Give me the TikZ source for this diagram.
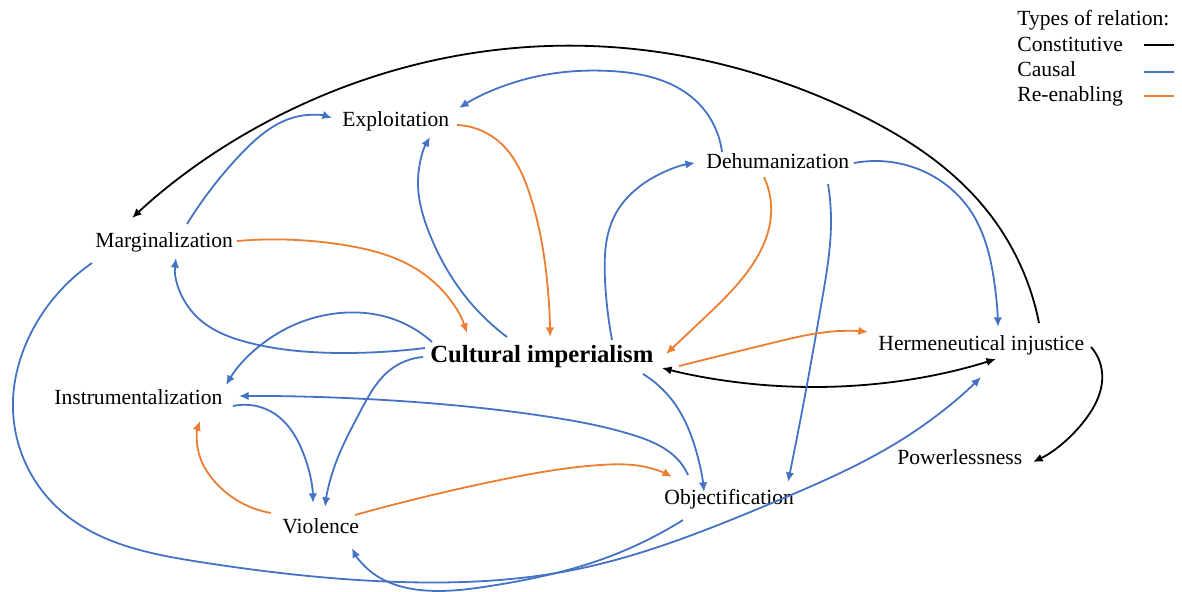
\documentclass[tikz,border=0pt]{standalone}
\usepackage{fontspec}
\setmainfont{Liberation Serif}
\usetikzlibrary{arrows.meta,hobby}
\definecolor{causalblue}{HTML}{4472C4}
\definecolor{reenorange}{HTML}{ED7D31}
\begin{document}
\begin{tikzpicture}[x=0.5pt,y=-0.5pt,
  lbl/.style={anchor=base west,inner sep=0pt,font=\fontsize{10.8}{13}\selectfont},
  mainlbl/.style={anchor=base west,inner sep=0pt,font=\fontsize{12.35}{15}\selectfont\bfseries},
  link/.style={line width=0.9pt,-{Latex[length=4.8pt,width=4.2pt]}},
  constitutive/.style={link,black},
  causal/.style={link,causalblue},
  reenabling/.style={link,reenorange},
  keyline/.style={line width=0.9pt}]
\useasboundingbox (0,0) rectangle (1182,592);

% concepts
\node[lbl] (exp) at (342,127) {Exploitation};
\node[lbl] (deh) at (706,169) {Dehumanization};
\node[lbl] (marg) at (95,248) {Marginalization};
\node[mainlbl] (cult) at (430,363) {Cultural imperialism};
\node[lbl] (herm) at (878,351) {Hermeneutical injustice};
\node[lbl] (instr) at (54,405) {Instrumentalization};
\node[lbl] (power) at (897,465) {Powerlessness};
\node[lbl] (obj) at (664,504) {Objectification};
\node[lbl] (viol) at (282,533) {Violence};

% key
\node[lbl] (ktitle) at (1017,26) {Types of relation:};
\node[lbl] (kcon) at (1017,52) {Constitutive};
\node[lbl] (kcau) at (1017,77) {Causal};
\node[lbl] (kre) at (1017,102) {Re-enabling};
\draw[keyline,black] ([shift={(127,-7)}]kcon.base west) -- ([shift={(157,-7)}]kcon.base west);
\draw[keyline,causalblue] ([shift={(127,-5)}]kcau.base west) -- ([shift={(157,-5)}]kcau.base west);
\draw[keyline,reenorange] ([shift={(127,-6)}]kre.base west) -- ([shift={(157,-6)}]kre.base west);

% constitutive relations
\draw[constitutive] ([shift={(161,-28)}]herm.base west) to[curve through={(984,207) .. (850,110) .. (590,46) .. (344,87)}] ([shift={(37,-30)}]marg.base west);
\draw[constitutive,{Latex[length=4.8pt,width=4.2pt]}-{Latex[length=4.8pt,width=4.2pt]}] ([shift={(232,5)}]cult.base west) to[curve through={(764,385)}] ([shift={(118,8)}]herm.base west);
\draw[constitutive] ([shift={(213,-4)}]herm.base west) to[curve through={(1102,372) .. (1085,420)}] ([shift={(136,-3)}]power.base west);

% causal relations
\draw[causal] ([shift={(16,-17)}]deh.base west) to[curve through={(695,100) .. (610,71) .. (530,78)}] ([shift={(117,-19)}]exp.base west);
\draw[causal] ([shift={(92,-24)}]marg.base west) to[curve through={(240,155) .. (300,116)}] ([shift={(-10,-9)}]exp.base west);
\draw[causal] ([shift={(77,-26)}]cult.base west) to[curve through={(465,296) .. (430,235) .. (418,180)}] ([shift={(88,10)}]exp.base west);
\draw[causal] ([shift={(-5,-15)}]cult.base west) to[curve through={(344,353) .. (250,343) .. (195,315)}] ([shift={(81,10)}]marg.base west);
\draw[causal] ([shift={(2,-21)}]cult.base west) to[curve through={(390,318) .. (340,313) .. (280,332)}] ([shift={(172,-20)}]instr.base west);
\draw[causal] ([shift={(-7,-6)}]cult.base west) to[curve through={(390,370) .. (360,412) .. (335,465)}] ([shift={(43,-26)}]viol.base west);
\draw[causal] ([shift={(179,1)}]instr.base west) to[curve through={(275,414) .. (302,450)}] ([shift={(31,-30)}]viol.base west);
\draw[causal] ([shift={(24,-29)}]obj.base west) to[curve through={(680,462) .. (633,435) .. (550,417) .. (400,401)}] ([shift={(185,-9)}]instr.base west);
\draw[causal] ([shift={(213,11)}]cult.base west) to[curve through={(672,400) .. (695,447)}] ([shift={(40,-12)}]obj.base west);
\draw[causal] ([shift={(122,15)}]deh.base west) to[curve through={(831,220) .. (822,300) .. (806,390)}] ([shift={(124,-22)}]obj.base west);
\draw[causal] ([shift={(182,-23)}]cult.base west) to[curve through={(605,280) .. (615,215) .. (649,180)}] ([shift={(-11,-6)}]deh.base west);
\draw[causal] ([shift={(148,-6)}]deh.base west) to[curve through={(925,172) .. (970,210) .. (994,280)}] ([shift={(120,-24)}]herm.base west);
\draw[causal] ([shift={(-3,15)}]marg.base west) to[curve through={(30,335) .. (13,410) .. (60,510) .. (200,562) .. (400,582) .. (573,570) .. (772,503) .. (906,437)}] ([shift={(103,26)}]herm.base west);
\draw[causal] ([shift={(19,16)}]obj.base west) to[curve through={(600,560) .. (490,586) .. (420,590) .. (370,571)}] ([shift={(70,15)}]viol.base west);

% re-enabling relations
\draw[reenabling] ([shift={(115,-2)}]exp.base west) to[curve through={(497,140) .. (530,195) .. (547,280)}] ([shift={(120,-26)}]cult.base west);
\draw[reenabling] ([shift={(142,-7)}]marg.base west) to[curve through={(344,245) .. (421,272)}] ([shift={(37,-30)}]cult.base west);
\draw[reenabling] ([shift={(58,8)}]deh.base west) to[curve through={(771,215) .. (745,275) .. (700,322)}] ([shift={(236,-9)}]cult.base west);
\draw[reenabling] ([shift={(249,3)}]cult.base west) to[curve through={(772,343) .. (840,331)}] ([shift={(-10,-19)}]herm.base west);
\draw[reenabling] ([shift={(-11,-20)}]viol.base west) to[curve through={(215,482) .. (198,450)}] ([shift={(146,16)}]instr.base west);
\draw[reenabling] ([shift={(73,-18)}]viol.base west) to[curve through={(500,480) .. (600,465) .. (650,468)}] ([shift={(8,-27)}]obj.base west);
\end{tikzpicture}
\end{document}
